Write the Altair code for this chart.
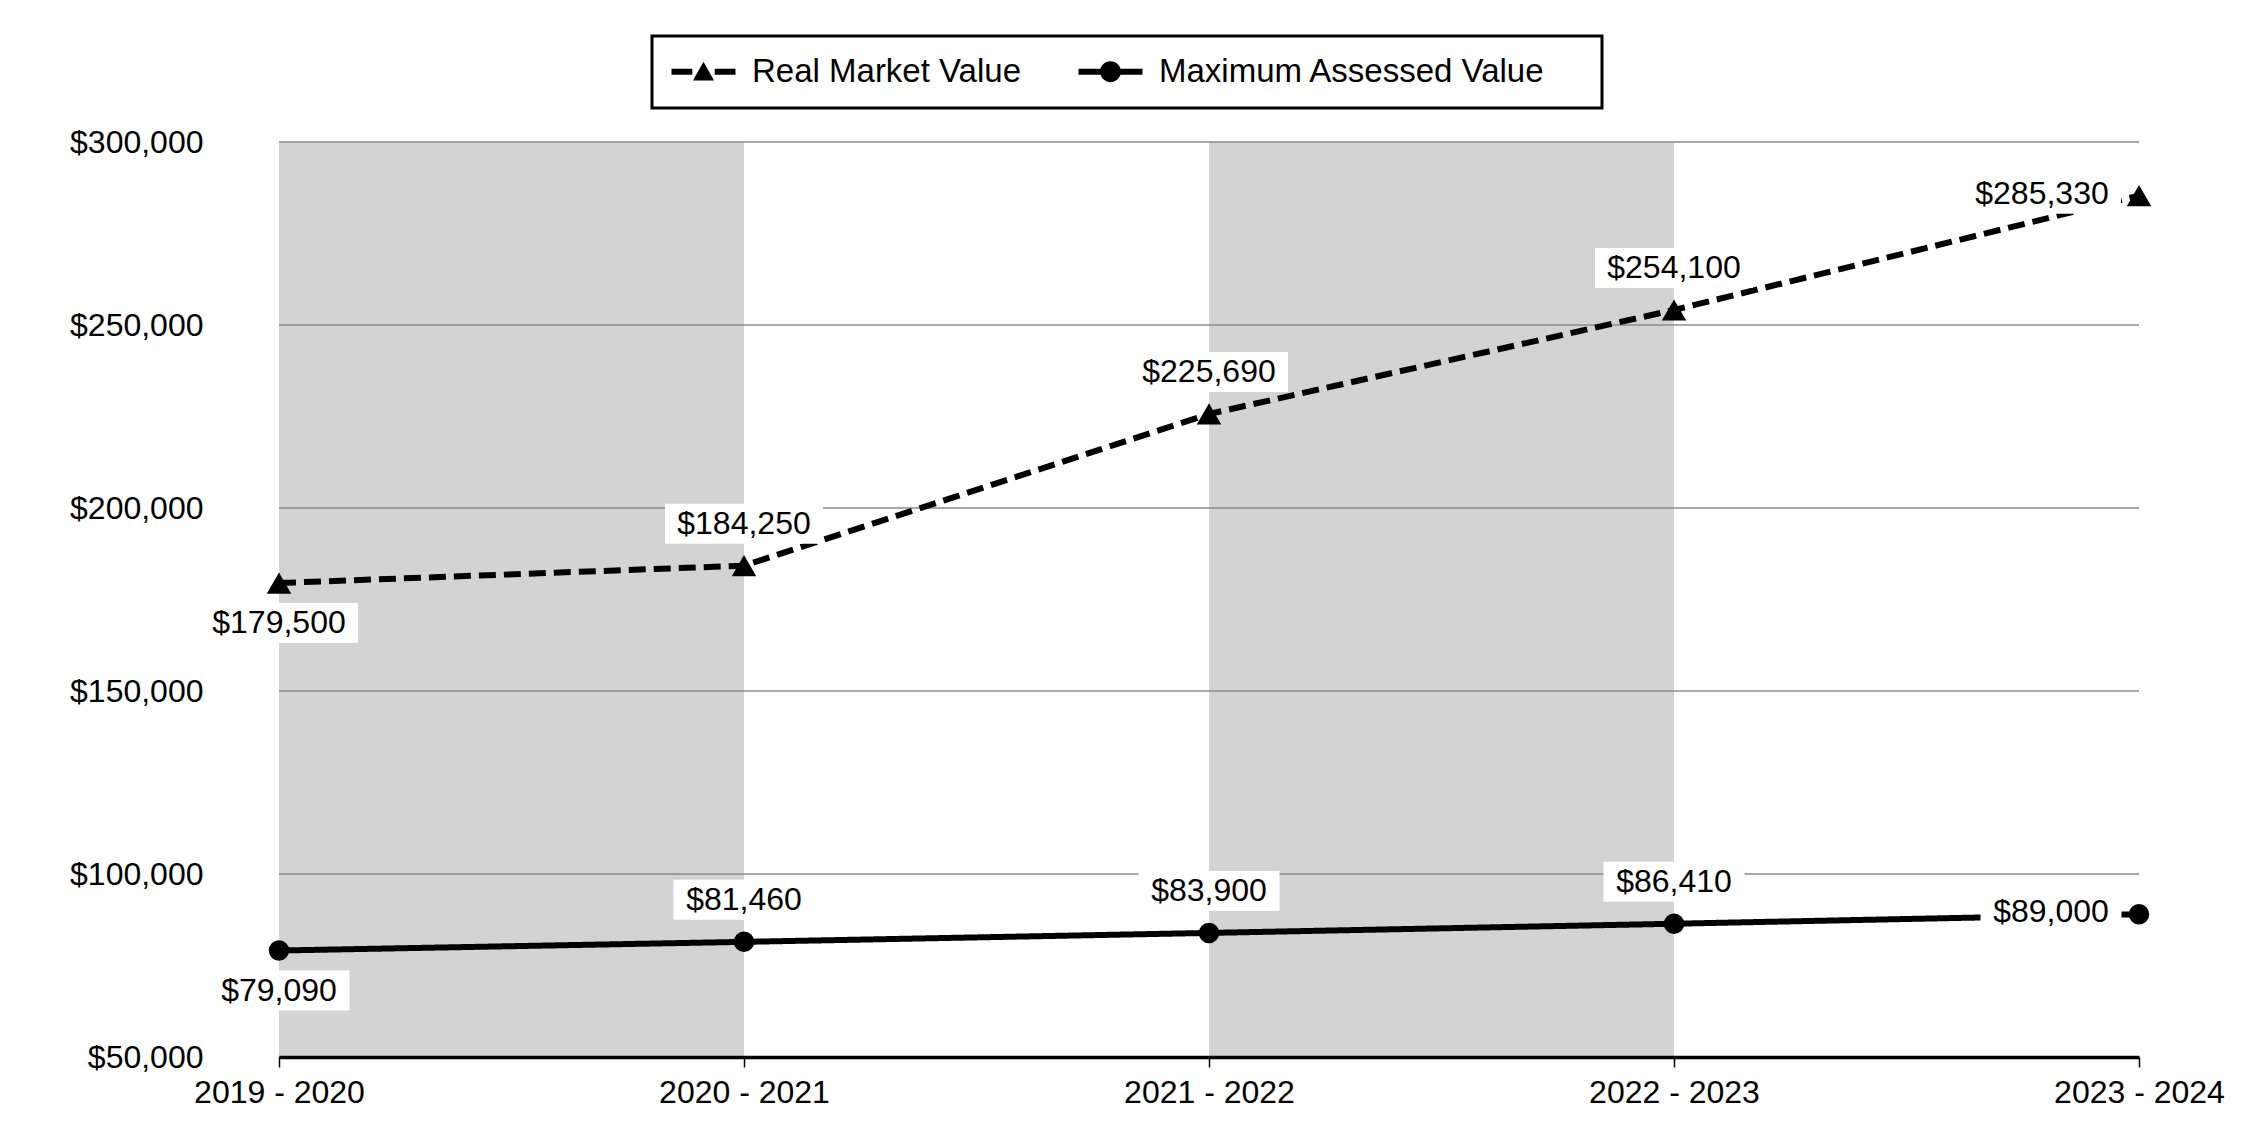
import altair as alt
import pandas as pd

# ---- data ----
years = ["2019 - 2020", "2020 - 2021", "2021 - 2022", "2022 - 2023", "2023 - 2024"]
real_market_value = [179500, 184250, 225690, 254100, 285330]
max_assessed_value = [79090, 81460, 83900, 86410, 89000]
series = ["Real Market Value", "Maximum Assessed Value"]
y_ticks = [50000, 100000, 150000, 200000, 250000, 300000]
shaded_from = ["2019 - 2020", "2021 - 2022"]
shaded_to = ["2020 - 2021", "2022 - 2023"]

n = len(years)
last = n - 1
rows = []
for s, vals in zip(series, [real_market_value, max_assessed_value]):
    for i, (yr, v) in enumerate(zip(years, vals)):
        rows.append({"idx": i, "year": yr, "series": s, "value": v,
                     "label": "${:,}".format(v)})
df = pd.DataFrame(rows)

bands = pd.DataFrame({
    "idx": [years.index(a) for a in shaded_from],
    "x1": [years.index(b) for b in shaded_to],
    "value": [min(y_ticks)] * len(shaded_from),
    "hi": [max(y_ticks)] * len(shaded_from),
})
grid = pd.DataFrame({"value": y_ticks, "idx": [0] * len(y_ticks), "x1": [last] * len(y_ticks)})

FONT = "Liberation Sans"
label_expr = "[" + ",".join("'%s'" % y for y in years) + "][datum.value]"

x_scale = alt.Scale(domain=[0, last], nice=False, zero=False)
y_scale = alt.Scale(domain=[min(y_ticks), max(y_ticks)], nice=False, zero=False)

x_axis = alt.Axis(values=list(range(n)), labelExpr=label_expr, title=None, grid=False,
                  domainColor="black", domainWidth=3.3, tickColor="black", tickWidth=1.5,
                  tickSize=10, labelPadding=10, labelFont=FONT, labelFontSize=32,
                  labelColor="black", zindex=1, labelOverlap=False, labelFlush=False)
y_axis = alt.Axis(values=y_ticks, format="$,.0f", title=None, grid=False, domain=False,
                  ticks=False, labelPadding=76, labelFont=FONT, labelFontSize=32,
                  labelColor="black", labelOverlap=False, labelFlush=False)

X = alt.X("idx:Q", scale=x_scale, axis=x_axis, title=None)
Y = alt.Y("value:Q", scale=y_scale, axis=y_axis, title=None)

band_layer = alt.Chart(bands).mark_rect(color="#d3d3d3").encode(
    x=X, x2="x1:Q", y=Y, y2="hi:Q",
)

grid_layer = alt.Chart(grid).mark_rule(color="#8c8c8c", strokeWidth=1.5).encode(
    x=X, x2="x1:Q", y=Y,
)

base = alt.Chart(df).encode(x=X, y=Y)

line_layer = base.mark_line(color="black", strokeWidth=6).encode(
    strokeDash=alt.StrokeDash("series:N", scale=alt.Scale(domain=series, range=[[17, 8], [1, 0]]),
                              legend=None),
    detail="series:N",
)

point_layer = base.mark_point(filled=True, color="black", opacity=1).encode(
    shape=alt.Shape("series:N", scale=alt.Scale(domain=series, range=["triangle-up", "circle"]),
                    legend=None),
    size=alt.Size("series:N", scale=alt.Scale(domain=series, range=[600, 420]), legend=None),
)


def box_path(w, h):
    a = w / h
    return "M-%.3f,-1H%.3fV1H-%.3fZ" % (a, a, a)


label_layers = []
box_layers = []
# (series, filter on idx, dx, dy, box width)
placements = [
    (series[0], "datum.idx == 0", 0, 40, 158),
    (series[0], "datum.idx > 0 && datum.idx < %d" % last, 0, -42, 158),
    (series[0], "datum.idx == %d" % last, -97, -2, 158),
    (series[1], "datum.idx == 0", 0, 40, 141),
    (series[1], "datum.idx > 0 && datum.idx < %d" % last, 0, -42, 141),
    (series[1], "datum.idx == %d" % last, -88, -2, 141),
]
for s, cond, dx, dy, w in placements:
    flt = "datum.series == '%s' && %s" % (s, cond)
    box_layers.append(
        base.transform_filter(flt).mark_point(
            shape=box_path(w, 40), size=1600, filled=True, color="white", opacity=1,
            strokeWidth=0, xOffset=dx, yOffset=dy)
    )
    label_layers.append(
        base.transform_filter(flt).mark_text(
            font=FONT, fontSize=32, color="black", align="center", baseline="middle",
            dx=dx, dy=dy).encode(text="label:N")
    )

# legend symbols (unit = 16px): dashed line + triangle, solid line + circle
sym_rmv = ("M-1,-0.19H0.3V0.19H-1Z "
           "M1,-0.62L1.66,0.55L0.34,0.55Z "
           "M1.7,-0.19H3V0.19H1.7Z")
sym_mav = ("M-1,-0.19H0.4V0.19H-1Z "
           "M0.35,0A0.65,0.65,0,1,1,1.65,0A0.65,0.65,0,1,1,0.35,0Z "
           "M1.6,-0.19H3V0.19H1.6Z")

legend_layer = base.transform_filter("false").mark_point(
    filled=True, color="black", size=1024, opacity=1).encode(
    shape=alt.Shape(
        "series:N",
        scale=alt.Scale(domain=series, range=[sym_rmv, sym_mav]),
        legend=alt.Legend(
            orient="none", legendX=373, legendY=-106, direction="horizontal",
            title=" ", titleOrient="right", titleFontSize=32, titlePadding=38,
            labelFont=FONT, labelFontSize=33, labelColor="black", labelOffset=48,
            labelLimit=0,
            symbolSize=1024, symbolFillColor="black", symbolStrokeColor="black",
            symbolStrokeWidth=0, symbolOpacity=1, columnPadding=56, padding=19,
            strokeColor="black", fillColor="white",
        ),
    )
)

chart = alt.layer(
    band_layer, grid_layer, line_layer, *box_layers, *label_layers, point_layer, legend_layer
).resolve_scale(shape="independent").properties(
    width=1860, height=915,
    autosize=alt.AutoSizeParams(type="none"),
    padding={"left": 271, "top": 134, "right": 95, "bottom": 70},
    background="white",
).configure_view(stroke=None).configure_legend(strokeWidth=3)

chart.save("out.html", embed_options={"renderer": "svg", "actions": False})
